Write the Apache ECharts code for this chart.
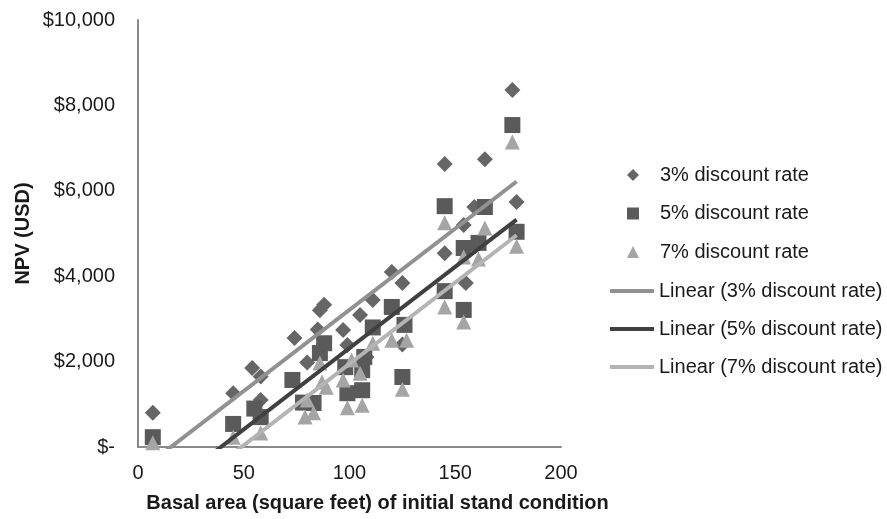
<!DOCTYPE html>
<html>
<head>
<meta charset="utf-8">
<script src="https://cdn.jsdelivr.net/npm/echarts@6/dist/echarts.min.js"></script>
<style>
  html, body { margin: 0; padding: 0; background: #fff; }
  #chart { width: 887px; height: 519px; }
</style>
</head>
<body>
<div id="chart"></div>
<script>
// NPV vs basal area, three discount rates
const rate3 = [
  [7, 800], [45, 1260], [54, 1850], [58, 1650], [58, 1100], [74, 2550],
  [80, 1980], [85, 2750], [86, 3200], [88, 3330], [97, 2740], [99, 2390],
  [105, 3090], [108, 2110], [111, 3440], [120, 4100], [125, 3840], [125, 2400],
  [145, 6630], [145, 4540], [154, 5200], [155, 3840], [159, 5620], [164, 6740],
  [177, 8360], [179, 5740]
]
const rate5 = [
  [7, 230], [45, 540], [55, 900], [58, 700], [73, 1570], [78, 1040],
  [83, 1030], [86, 2200], [88, 2430], [98, 1870], [99, 1260], [106, 1800],
  [106, 1330], [107, 2110], [111, 2800], [120, 3280], [125, 1640], [126, 2860],
  [145, 5640], [145, 3650], [154, 4660], [154, 3210], [161, 4780], [164, 5620],
  [177, 7540], [179, 5040]
]
const rate7 = [
  [7, 100], [45, 230], [58, 330], [79, 700], [83, 800], [80, 1100],
  [86, 1970], [87, 1520], [89, 1400], [97, 1570], [99, 920], [105, 1730],
  [106, 980], [101, 2040], [111, 2430], [120, 2500], [125, 1350], [127, 2500],
  [145, 5250], [145, 3280], [154, 2930], [154, 4450], [161, 4400], [164, 5130],
  [177, 7140], [179, 4700]
]
const seriesNames = ['3% discount rate', '5% discount rate', '7% discount rate']
const xTicks = [0, 50, 100, 150, 200]
const yTicks = [0, 2000, 4000, 6000, 8000, 10000]

const font = 'Liberation Sans, Arial, sans-serif'
const textColor = '#1a1a1a'
const colors = { d3: '#666666', d5: '#5a5a5a', d7: '#a5a5a5', l3: '#919191', l5: '#404040', l7: '#b4b4b4' }

// least squares line over the data's x range, like the spreadsheet trendline
function trend(points) {
  const n = points.length
  let sx = 0, sy = 0, sxx = 0, sxy = 0
  points.forEach(p => { sx += p[0]; sy += p[1]; sxx += p[0] * p[0]; sxy += p[0] * p[1] })
  const b = (n * sxy - sx * sy) / (n * sxx - sx * sx)
  const a = (sy - b * sx) / n
  const xs = points.map(p => p[0])
  const x0 = Math.min(...xs), x1 = Math.max(...xs)
  return [[x0, a + b * x0], [x1, a + b * x1]]
}

const chart = echarts.init(document.getElementById('chart'))

const scatter = (name, data, symbol, size, color) => ({
  name, type: 'scatter', data, symbol, symbolSize: size,
  itemStyle: { color, opacity: 1 }, z: 2
})
const lineName = n => 'Linear (' + n + ')'
const fitLine = (name, data, color) => ({
  name: lineName(name), type: 'line', data: trend(data),
  showSymbol: false, symbol: 'none', clip: true,
  lineStyle: { color, width: 4 }, itemStyle: { color }, z: 3
})

const legendText = { fontFamily: font, fontSize: 20, color: textColor, lineHeight: 20 }
const barIcon = 'path://M0,0H44V4H0Z'

chart.setOption({
  animation: false,
  backgroundColor: '#fff',
  textStyle: { fontFamily: font },
  grid: { left: 138, right: 326, top: 20, bottom: 72 },
  xAxis: {
    type: 'value', min: xTicks[0], max: xTicks[xTicks.length - 1], interval: 50,
    name: 'Basal area (square feet) of initial stand condition',
    nameLocation: 'middle', nameGap: 46,
    nameTextStyle: { fontFamily: font, fontSize: 20, fontWeight: 'bold', color: textColor, padding: [0, 0, 0, 56] },
    axisLine: { show: true, lineStyle: { color: '#898989', width: 2 } },
    axisTick: { show: false },
    splitLine: { show: false },
    axisLabel: { fontFamily: font, fontSize: 20, color: textColor, margin: 16 }
  },
  yAxis: {
    type: 'value', min: yTicks[0], max: yTicks[yTicks.length - 1], interval: 2000,
    name: 'NPV (USD)', nameLocation: 'middle', nameGap: 105,
    nameTextStyle: { fontFamily: font, fontSize: 20, fontWeight: 'bold', color: textColor },
    axisLine: { show: true, lineStyle: { color: '#898989', width: 2 } },
    axisTick: { show: false },
    splitLine: { show: false },
    axisLabel: {
      fontFamily: font, fontSize: 20, color: textColor, margin: 23,
      formatter: v => v === 0 ? '$-' : '$' + v.toLocaleString('en-US')
    }
  },
  legend: [
    {
      orient: 'vertical', left: 627, top: 165, padding: 0,
      itemWidth: 12, itemHeight: 12, itemGap: 18.5,
      textStyle: Object.assign({ padding: [0, 0, 0, 16] }, legendText),
      data: [
        { name: seriesNames[0], icon: 'diamond' },
        { name: seriesNames[1], icon: 'rect' },
        { name: seriesNames[2], icon: 'triangle' }
      ]
    },
    {
      orient: 'vertical', left: 610, top: 281, padding: 0,
      itemWidth: 44, itemHeight: 4, itemGap: 18,
      textStyle: legendText,
      data: seriesNames.map(n => ({ name: lineName(n), icon: barIcon }))
    }
  ],
  series: [
    scatter(seriesNames[0], rate3, 'diamond', 16, colors.d3),
    scatter(seriesNames[1], rate5, 'rect', 16, colors.d5),
    scatter(seriesNames[2], rate7, 'triangle', 15, colors.d7),
    fitLine(seriesNames[0], rate3, colors.l3),
    fitLine(seriesNames[1], rate5, colors.l5),
    fitLine(seriesNames[2], rate7, colors.l7)
  ]
})
</script>
</body>
</html>
